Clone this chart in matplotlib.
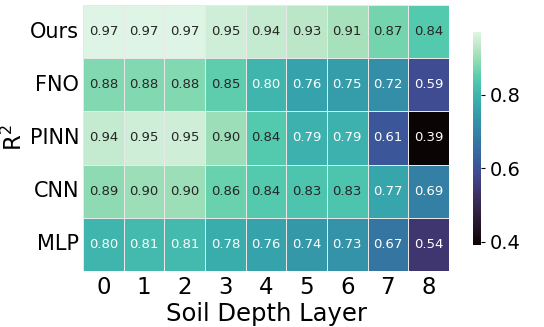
import numpy as np
import matplotlib
matplotlib.use("Agg")
import matplotlib.pyplot as plt
import seaborn as sns

models = ["Ours", "FNO", "PINN", "CNN", "MLP"]
layers = [0, 1, 2, 3, 4, 5, 6, 7, 8]

ours = [0.97, 0.97, 0.97, 0.95, 0.94, 0.93, 0.91, 0.87, 0.84]
fno = [0.88, 0.88, 0.88, 0.85, 0.80, 0.76, 0.75, 0.72, 0.59]
pinn = [0.94, 0.95, 0.95, 0.90, 0.84, 0.79, 0.79, 0.61, 0.39]
cnn = [0.89, 0.90, 0.90, 0.86, 0.84, 0.83, 0.83, 0.77, 0.69]
mlp = [0.80, 0.81, 0.81, 0.78, 0.76, 0.74, 0.73, 0.67, 0.54]

r2 = np.array([ours, fno, pinn, cnn, mlp])

fig = plt.figure(figsize=(5.44, 3.27), dpi=100)
ax = fig.add_axes([0.153, 0.171, 0.672, 0.814])
cax = fig.add_axes([0.870, 0.250, 0.014, 0.652])

sns.heatmap(r2, ax=ax, cbar_ax=cax, cmap="mako", annot=True, fmt=".2f",
            annot_kws={"fontsize": 9.5}, linewidths=0.5, linecolor="#e8e8e8",
            xticklabels=layers, yticklabels=models)

ax.tick_params(axis="x", length=0, labelsize=16.5)
ax.tick_params(axis="y", length=0, labelsize=15, pad=3)
ax.set_yticklabels(models, rotation=0)
ax.set_xlabel("Soil Depth Layer", fontsize=17.5, labelpad=2)
ax.set_ylabel("R$^2$", fontsize=16.5)
ax.yaxis.set_label_coords(-0.155, 0.5)
cax.tick_params(labelsize=14, length=3)
cax.set_yticks([0.4, 0.6, 0.8])

fig.savefig("out.png", dpi=100)
